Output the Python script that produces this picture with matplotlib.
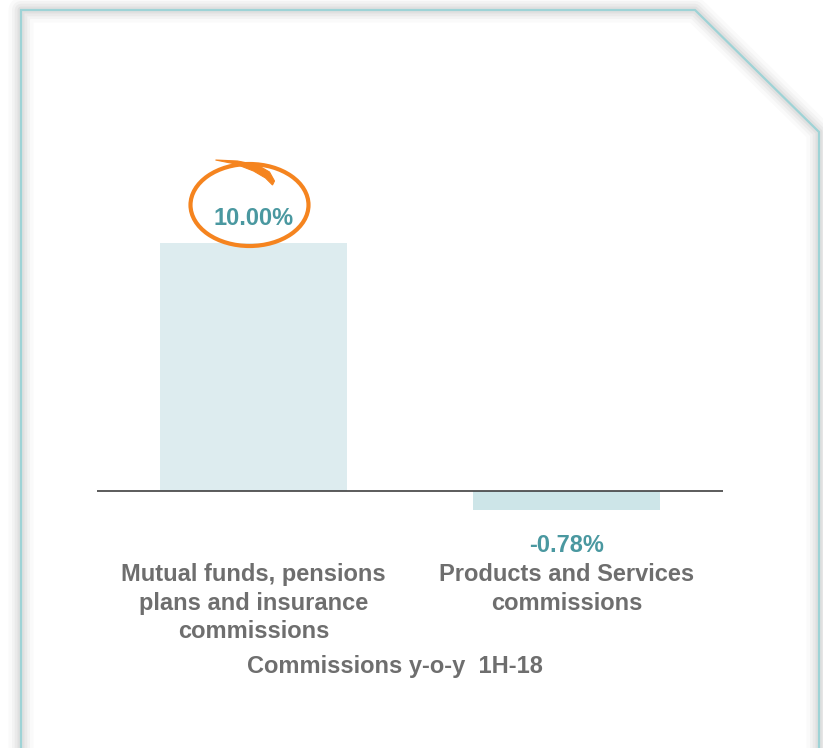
import matplotlib
matplotlib.use("Agg")
import matplotlib.pyplot as plt
from matplotlib.patches import Ellipse, Polygon

plt.rcParams['font.family'] = ['Liberation Sans', 'DejaVu Sans']

# commissions growth, year on year
categories = ["Mutual funds, pensions\nplans and insurance\ncommissions",
              "Products and Services\ncommissions"]
growth = [10.00, -0.78]
bar_colors = ["#DDECEF", "#CDE5E8"]
title = "Commissions y-o-y  1H-18"

gray = "#6E6E6E"
teal = "#4A98A0"
orange = "#F5841F"

fig = plt.figure(figsize=(8.23, 7.48), dpi=100)

# background card with cut corner, drawn in pixel coordinates
bg = fig.add_axes([0, 0, 1, 1])
bg.set_xlim(0, 823)
bg.set_ylim(748, 0)
bg.axis("off")
card = [(21, 770), (21, 10), (695, 10), (819, 132), (819, 770)]
xs = [p[0] for p in card]
ys = [p[1] for p in card]
for lw, a in [(18, 0.04), (13, 0.06), (9, 0.08), (5, 0.10)]:
    bg.plot(xs, ys, color="#8a8a8a", lw=lw, alpha=a, solid_joinstyle="round")
bg.add_patch(Polygon(card, closed=False, facecolor="white", edgecolor="none"))
bg.plot(xs, ys, color="#9ED3D6", lw=1.6, solid_joinstyle="miter")

# bar chart
ax = fig.add_axes([97 / 823, 218 / 748, 626 / 823, 380 / 748])
ax.patch.set_visible(False)
pos = range(len(growth))
bars = ax.bar(pos, growth, width=0.6, color=bar_colors)
ax.set_xlim(-0.5, 1.5)
ax.set_ylim(-39 / 24.8, 341 / 24.8)
ax.axhline(0, color="#404040", lw=1.2)
for s in ax.spines.values():
    s.set_visible(False)
ax.set_yticks([])
ax.set_xticks(list(pos), categories, fontsize=17, fontweight="bold", color=gray,
              linespacing=1.3)
ax.tick_params(axis="x", length=0, pad=24)

for b, v in zip(bars, growth):
    off = 17.5 if v >= 0 else -25
    ax.annotate(f"{v:.2f}%", (b.get_x() + b.get_width() / 2, v),
                xytext=(0, off), textcoords="offset points",
                ha="center", va="center", fontsize=17, fontweight="bold", color=teal)

# orange hand-drawn circle around the top value (offsets in pixels)
px, py = 626 / 2, 24.8
hi = growth[0]
cx, cy = -4 / px, hi + 38 / py
ax.add_patch(Ellipse((cx, cy), 118 / px, 82 / py, fill=False,
                     edgecolor=orange, lw=3, clip_on=False))
tail_px = [(-34, 45), (-12, 44), (8, 40), (20, 33), (25, 24), (23, 20),
           (16, 27), (4, 34), (-14, 41), (-34, 45)]
tail = [(cx + dx / px, cy + dy / py) for dx, dy in tail_px]
ax.add_patch(Polygon(tail, closed=True, facecolor=orange, edgecolor=orange,
                     lw=0.8, clip_on=False))

fig.text(395 / 823, 1 - 667 / 748, title, ha="center", va="center",
         fontsize=17, fontweight="bold", color=gray)

fig.savefig("out.png", dpi=100)
